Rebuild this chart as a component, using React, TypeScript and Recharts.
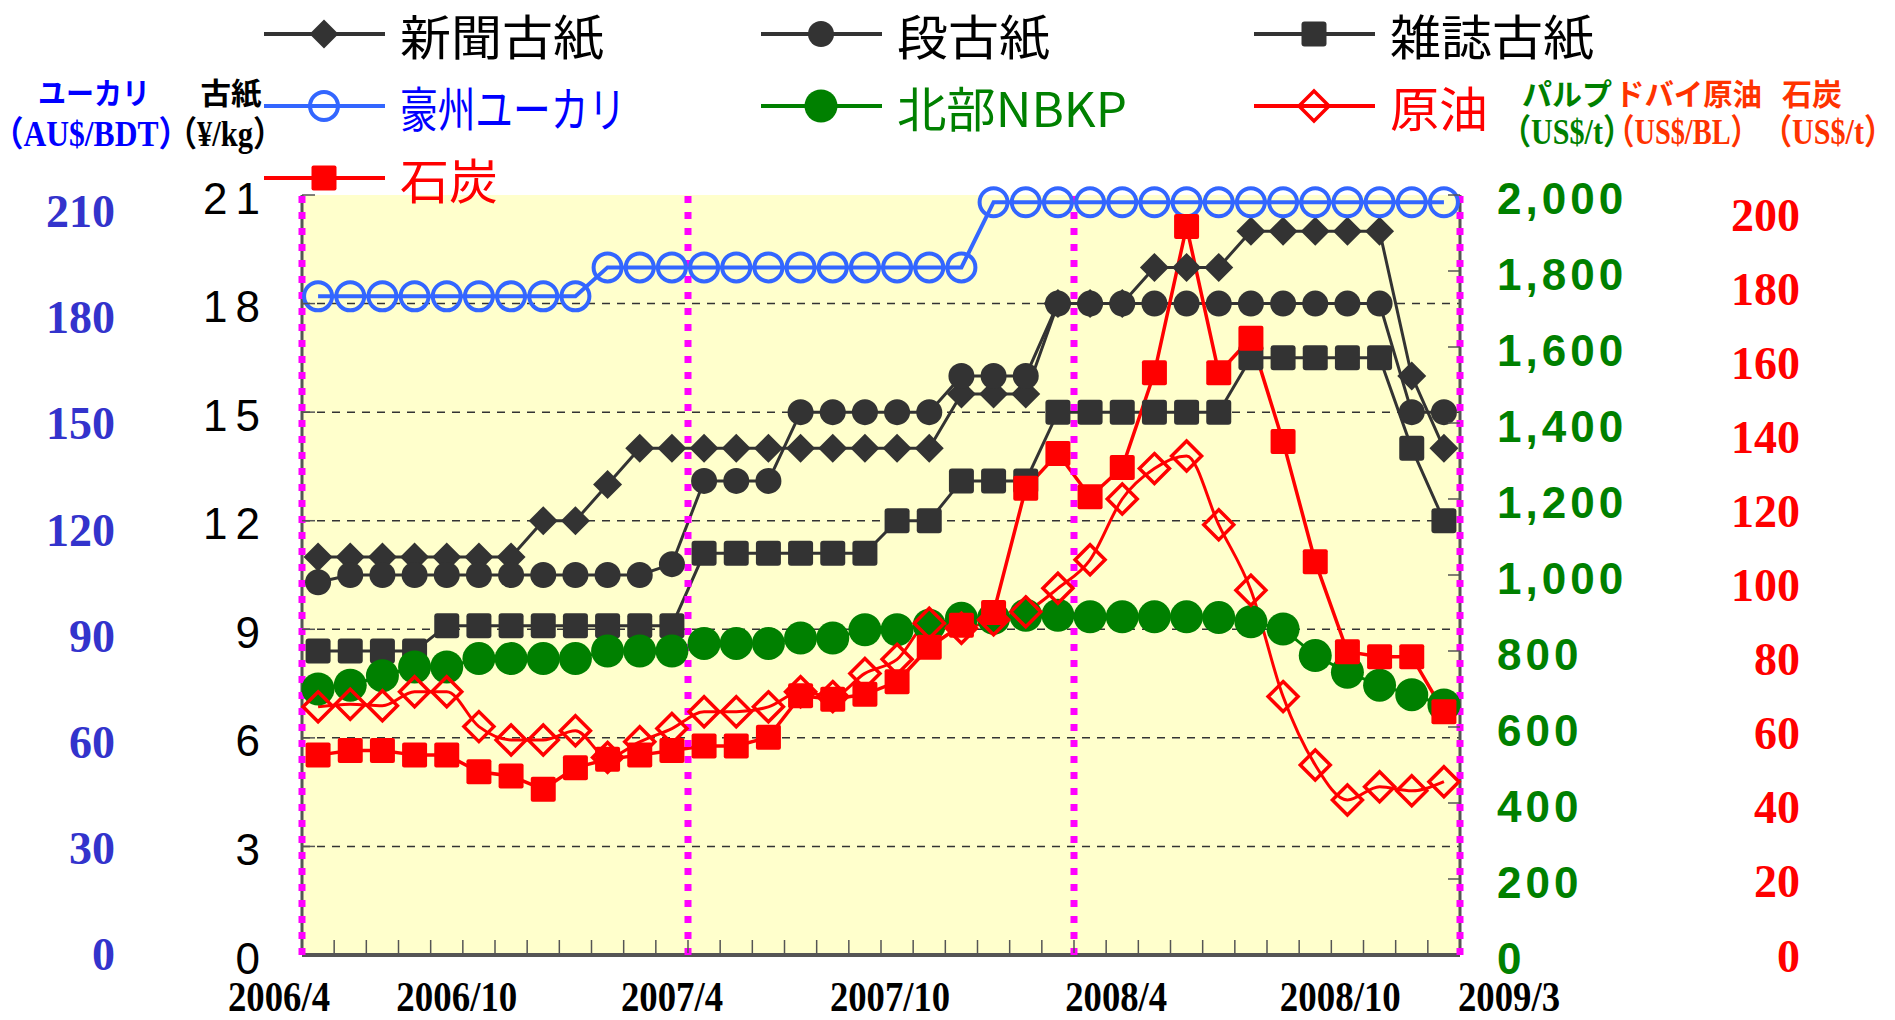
import React from 'react';
import { LineChart, Line, XAxis, YAxis, ReferenceLine, ReferenceArea, Legend } from 'recharts';

// ---------- data ----------
const months = [
  '2006/4', '2006/5', '2006/6', '2006/7', '2006/8', '2006/9', '2006/10', '2006/11', '2006/12', '2007/1', '2007/2', '2007/3',
  '2007/4', '2007/5', '2007/6', '2007/7', '2007/8', '2007/9', '2007/10', '2007/11', '2007/12', '2008/1', '2008/2', '2008/3',
  '2008/4', '2008/5', '2008/6', '2008/7', '2008/8', '2008/9', '2008/10', '2008/11', '2008/12', '2009/1', '2009/2', '2009/3',
];

// 古紙 (¥/kg)
const newsprint = [11, 11, 11, 11, 11, 11, 11, 12, 12, 13, 14, 14, 14, 14, 14, 14, 14, 14, 14, 14, 15.5, 15.5, 15.5, 18, 18, 18, 19, 19, 19, 20, 20, 20, 20, 20, 16, 14];
const corrugated = [10.3, 10.5, 10.5, 10.5, 10.5, 10.5, 10.5, 10.5, 10.5, 10.5, 10.5, 10.8, 13.1, 13.1, 13.1, 15, 15, 15, 15, 15, 16, 16, 16, 18, 18, 18, 18, 18, 18, 18, 18, 18, 18, 18, 15, 15];
const magazine = [8.4, 8.4, 8.4, 8.4, 9.1, 9.1, 9.1, 9.1, 9.1, 9.1, 9.1, 9.1, 11.1, 11.1, 11.1, 11.1, 11.1, 11.1, 12, 12, 13.1, 13.1, 13.1, 15, 15, 15, 15, 15, 15, 16.5, 16.5, 16.5, 16.5, 16.5, 14, 12];
// 豪州ユーカリ (AU$/BDT)
const eucalyptus = [182, 182, 182, 182, 182, 182, 182, 182, 182, 190, 190, 190, 190, 190, 190, 190, 190, 190, 190, 190, 190, 208, 208, 208, 208, 208, 208, 208, 208, 208, 208, 208, 208, 208, 208, 208];
// 北部NBKP (US$/t)
const nbkp = [700, 710, 735, 758, 758, 780, 780, 780, 780, 800, 800, 800, 820, 820, 820, 834, 834, 856, 856, 868, 886, 886, 894, 894, 890, 890, 890, 890, 888, 877, 858, 788, 744, 710, 685, 658];
// ドバイ原油 (US$/BL)
const crude = [65.3, 66, 65.6, 69.3, 69.3, 60.1, 56.6, 56.6, 59, 52, 56.1, 59.6, 64, 64, 65.3, 69.3, 68, 74.1, 77.8, 87.3, 86, 88.2, 90.3, 96.5, 104, 120, 128, 131.3, 113.2, 96, 68, 50, 40.8, 44.3, 43.2, 45.6];
// 石炭 (US$/t)
const coal = [52.6, 53.8, 53.8, 52.6, 52.6, 48.2, 47.1, 43.6, 49.3, 51.5, 52.6, 53.8, 55, 55, 57.3, 68.2, 67.3, 68.6, 71.9, 81, 86.8, 90.1, 122.8, 132, 120.6, 128.3, 153.2, 191.7, 153.2, 162.3, 135.1, 103.5, 79.8, 78.5, 78.5, 64];

const paperTicks = [0, 3, 6, 9, 12, 15, 18, 21];
const eucTicks = [0, 30, 60, 90, 120, 150, 180, 210];
const pulpTicks = [0, 200, 400, 600, 800, 1000, 1200, 1400, 1600, 1800, 2000];
const redTicks = [0, 20, 40, 60, 80, 100, 120, 140, 160, 180, 200];
const gridValues = [3, 6, 9, 12, 15, 18];
const fiscalYearBoundaries = [0, 12, 24, 36];
const monthBoundaries = Array.from({ length: 37 }, (_, i) => i);
const xTickLabels: Record<number, string> = { 0: '2006/4', 5: '2006/10', 12: '2007/4', 18: '2007/10', 25: '2008/4', 32: '2008/10', 36: '2009/3' };

const data = months.map((m, i) => ({
  month: m,
  x: i + 0.5,
  newsprint: newsprint[i],
  corrugated: corrugated[i],
  magazine: magazine[i],
  eucalyptus: eucalyptus[i],
  nbkp: nbkp[i],
  crude: crude[i],
  coal: coal[i],
}));

// axis ids (sorted order decides placement: A adjacent-left, B outer-left, C adjacent-right, D outer-right)
const PAPER = 'axisA_paper';
const EUC = 'axisB_euc';
const PULP = 'axisC_pulp';
const REDAX = 'axisD_red';

// ---------- styling ----------
const W = 1879;
const H = 1004;
const PLOT_TOP = 187;
const DARK = '#333333';
const BLUE = '#3366FF';
const GREEN = '#008000';
const RED = '#FF0000';
const ORANGE = '#FF3300';
const MAGENTA = '#FF00FF';
const BG = '#FFFFCC';
const SERIF = "'Liberation Serif', 'Times New Roman', 'Noto Sans CJK JP', serif";
const SANS = "'Liberation Sans', Arial, sans-serif";
const CJK = "'Noto Sans CJK JP', 'Noto Sans', sans-serif";

type Shape = 'diamond' | 'circle' | 'squareDark' | 'openCircle' | 'bigCircle' | 'openDiamond' | 'square';

interface SeriesCfg {
  key: string; name: string; axis: string; color: string; textColor: string; shape: Shape;
  width: number; curve: 'linear' | 'monotone'; col: number; row: number; textLen: number;
}

const series: SeriesCfg[] = [
  { key: 'newsprint', name: '新聞古紙', axis: PAPER, color: DARK, textColor: '#000', shape: 'diamond', width: 3, curve: 'linear', col: 0, row: 0, textLen: 204 },
  { key: 'corrugated', name: '段古紙', axis: PAPER, color: DARK, textColor: '#000', shape: 'circle', width: 3, curve: 'linear', col: 1, row: 0, textLen: 153 },
  { key: 'magazine', name: '雑誌古紙', axis: PAPER, color: DARK, textColor: '#000', shape: 'squareDark', width: 3, curve: 'linear', col: 2, row: 0, textLen: 204 },
  { key: 'eucalyptus', name: '豪州ユーカリ', axis: EUC, color: BLUE, textColor: '#0000FF', shape: 'openCircle', width: 4, curve: 'linear', col: 0, row: 1, textLen: 226 },
  { key: 'nbkp', name: '北部NBKP', axis: PULP, color: GREEN, textColor: GREEN, shape: 'bigCircle', width: 3, curve: 'linear', col: 1, row: 1, textLen: 230 },
  { key: 'crude', name: '原油', axis: REDAX, color: RED, textColor: RED, shape: 'openDiamond', width: 3, curve: 'monotone', col: 2, row: 1, textLen: 98 },
  { key: 'coal', name: '石炭', axis: REDAX, color: RED, textColor: RED, shape: 'square', width: 3.5, curve: 'linear', col: 0, row: 2, textLen: 98 },
];

function Marker({ shape, cx, cy, color }: { shape: Shape; cx: number; cy: number; color: string }) {
  if (cx == null || cy == null || Number.isNaN(cx) || Number.isNaN(cy)) return <g />;
  switch (shape) {
    case 'diamond': {
      const h = 14.5;
      return <polygon points={`${cx},${cy - h} ${cx + h},${cy} ${cx},${cy + h} ${cx - h},${cy}`} fill={color} />;
    }
    case 'circle':
      return <circle cx={cx} cy={cy} r={13} fill={color} />;
    case 'squareDark':
      return <rect x={cx - 12.5} y={cy - 12.5} width={25} height={25} rx={3} fill={color} />;
    case 'openCircle':
      return <circle cx={cx} cy={cy} r={14} fill="none" stroke={color} strokeWidth={4} />;
    case 'bigCircle':
      return <circle cx={cx} cy={cy} r={16.5} fill={color} />;
    case 'openDiamond': {
      const h = 15;
      return <polygon points={`${cx},${cy - h} ${cx + h},${cy} ${cx},${cy + h} ${cx - h},${cy}`} fill="none" stroke={color} strokeWidth={3.5} />;
    }
    case 'square':
    default:
      return <rect x={cx - 12.5} y={cy - 12.5} width={25} height={25} rx={2} fill={color} />;
  }
}

// legend layout
const legendLineStart = [256, 753, 1246];
const legendRowY = [26, 98, 170];

function LegendContent() {
  return (
    <svg width={W} height={PLOT_TOP} style={{ display: 'block', overflow: 'visible' }}>
      {series.map((s) => {
        const x0 = legendLineStart[s.col];
        const y = legendRowY[s.row];
        return (
          <g key={s.key}>
            <line x1={x0} x2={x0 + 121} y1={y} y2={y} stroke={s.color} strokeWidth={4} />
            <Marker shape={s.shape} cx={x0 + 60} cy={y} color={s.color} />
            <text x={x0 + 136} y={y} dominantBaseline="central" fontFamily={CJK} fontSize={48}
              fill={s.textColor} textLength={s.textLen} lengthAdjust="spacingAndGlyphs">{s.name}</text>
          </g>
        );
      })}
    </svg>
  );
}

// ---------- ticks ----------
const xLabelShift: Record<number, number> = { 0: -23, 5: -6, 12: -16, 18: 9, 25: 10, 32: 9, 36: 49 };
const xLabelLen: Record<number, number> = { 0: 102, 5: 121, 12: 102, 18: 120, 25: 102, 32: 121, 36: 102 };

function XTick(props: any) {
  const { x, y, payload } = props;
  const v = payload.value as number;
  const label = xTickLabels[v];
  return (
    <g>
      {v > 0 && v < 36 && <line x1={x} x2={x} y1={y - 2} y2={y - 15} stroke="#555" strokeWidth={1.5} />}
      {label && (
        <text x={x + xLabelShift[v]} y={y + 56} textAnchor="middle" fontFamily={SERIF} fontWeight="bold"
          fontSize={42} fill="#000" textLength={xLabelLen[v]} lengthAdjust="spacingAndGlyphs">{label}</text>
      )}
    </g>
  );
}

function PaperTick(props: any) {
  const { x, y, payload } = props;
  return (
    <g>
      {payload.value !== 0 && <line x1={x} x2={x + 13} y1={y} y2={y} stroke="#555" strokeWidth={1.5} />}
      <text x={x - 34} y={y + 3} textAnchor="end" dominantBaseline="central" fontFamily={SANS}
        fontSize={44} letterSpacing={8} fill="#000">{payload.value}</text>
    </g>
  );
}

function EucTick(props: any) {
  const { x, y, payload } = props;
  const ly = 203.5 + (y - PLOT_TOP) * 0.978;
  return (
    <text x={x - 43} y={ly} textAnchor="end" dominantBaseline="central" fontFamily={SERIF} fontWeight="bold"
      fontSize={46} fill="#3333CC">{payload.value}</text>
  );
}

function PulpTick(props: any) {
  const { x, y, payload } = props;
  return (
    <g>
      {payload.value !== 0 && <line x1={x - 12} x2={x} y1={y} y2={y} stroke="#555" strokeWidth={1.5} />}
      <text x={x + 37} y={y + 3} textAnchor="start" dominantBaseline="central" fontFamily={SANS} fontWeight="bold"
        fontSize={44} letterSpacing={4} fill={GREEN}>{Number(payload.value).toLocaleString('en-US')}</text>
    </g>
  );
}

function RedTick(props: any) {
  const { x, y, payload } = props;
  const ly = 207 + (y - PLOT_TOP) * 0.975;
  return (
    <text x={x + 90} y={ly} textAnchor="end" dominantBaseline="central" fontFamily={SERIF} fontWeight="bold"
      fontSize={46} fill={RED}>{payload.value}</text>
  );
}

// ---------- axis titles ----------
interface TitleLine { x: number; y: number; text: string; color: string; len: number; font: string; size: number }
function AxisTitle({ lines }: { lines: TitleLine[] }) {
  return (
    <g>
      {lines.map((l, i) => (
        <text key={i} x={l.x} y={l.y} textAnchor="middle" dominantBaseline="central" fontFamily={l.font}
          fontWeight="bold" fontSize={l.size} fill={l.color} textLength={l.len} lengthAdjust="spacingAndGlyphs">{l.text}</text>
      ))}
    </g>
  );
}

const eucTitle = (p: any) => {
  const vb = p.viewBox || { x: 0, y: PLOT_TOP };
  return <AxisTitle lines={[
    { x: vb.x + 86, y: vb.y - 104, text: 'ユーカリ', color: '#0000FF', len: 112, font: CJK, size: 30 },
    { x: vb.x + 83, y: vb.y - 61, text: '（AU$/BDT）', color: '#0000FF', len: 198, font: SERIF, size: 35 },
  ]} />;
};
const paperTitle = (p: any) => {
  const vb = p.viewBox || { x: 150, y: PLOT_TOP };
  return <AxisTitle lines={[
    { x: vb.x + 73, y: vb.y - 104, text: '古紙', color: '#000', len: 61, font: CJK, size: 30 },
    { x: vb.x + 67, y: vb.y - 61, text: '（¥/kg）', color: '#000', len: 117, font: SERIF, size: 35 },
  ]} />;
};
const pulpTitle = (p: any) => {
  const vb = p.viewBox || { x: 1452, y: PLOT_TOP };
  return <AxisTitle lines={[
    { x: vb.x + 107, y: vb.y - 103, text: 'パルプ', color: GREEN, len: 90, font: CJK, size: 30 },
    { x: vb.x + 107, y: vb.y - 63, text: '（US$/t）', color: GREEN, len: 132, font: SERIF, size: 35 },
  ]} />;
};
const redTitle = (p: any) => {
  const vb = p.viewBox || { x: 1702, y: PLOT_TOP };
  return <AxisTitle lines={[
    { x: vb.x - 21.5, y: vb.y - 103, text: 'ドバイ原油', color: ORANGE, len: 147, font: CJK, size: 30 },
    { x: vb.x + 102, y: vb.y - 103, text: '石炭', color: ORANGE, len: 60, font: CJK, size: 30 },
    { x: vb.x - 27.5, y: vb.y - 63, text: '（US$/BL）', color: ORANGE, len: 153, font: SERIF, size: 35 },
    { x: vb.x + 118, y: vb.y - 63, text: '（US$/t）', color: ORANGE, len: 132, font: SERIF, size: 35 },
  ]} />;
};

export default function App() {
  return (
    <LineChart width={W} height={H} data={data} margin={{ top: PLOT_TOP, right: 0, bottom: 0, left: 0 }}>
      <ReferenceArea yAxisId={PAPER} y1={0} y2={21} fill={BG} fillOpacity={1} stroke="none" {...({ zIndex: -200 } as any)} />
      {gridValues.map((v) => (
        <ReferenceLine key={`g${v}`} yAxisId={PAPER} y={v} stroke="#333" strokeWidth={1.5} strokeDasharray="8 7" {...({ zIndex: -150 } as any)} />
      ))}
      <XAxis dataKey="x" type="number" domain={[0, 36]} ticks={monthBoundaries} interval={0} height={57}
        tickSize={0} tickMargin={0} tickLine={false} axisLine={{ stroke: '#555', strokeWidth: 4 }}
        tick={(p: any) => <XTick {...p} />} />
      <YAxis yAxisId={PAPER} orientation="left" width={144} domain={[0, 21]} ticks={paperTicks} interval={0}
        tickSize={0} tickMargin={0} tickLine={false} axisLine={{ stroke: '#555', strokeWidth: 3 }}
        tick={(p: any) => <PaperTick {...p} />} label={{ content: paperTitle } as any} />
      <YAxis yAxisId={EUC} orientation="left" width={150} domain={[0, 210]} ticks={eucTicks} interval={0}
        tickSize={0} tickMargin={0} tickLine={false} axisLine={false}
        tick={(p: any) => <EucTick {...p} />} label={{ content: eucTitle } as any} />
      <YAxis yAxisId={PULP} orientation="right" width={250} domain={[0, 2000]} ticks={pulpTicks} interval={0}
        tickSize={0} tickMargin={0} tickLine={false} axisLine={{ stroke: '#555', strokeWidth: 3 }}
        tick={(p: any) => <PulpTick {...p} />} label={{ content: pulpTitle } as any} />
      <YAxis yAxisId={REDAX} orientation="right" width={177} domain={[0, 200]} ticks={redTicks} interval={0}
        tickSize={0} tickMargin={0} tickLine={false} axisLine={false}
        tick={(p: any) => <RedTick {...p} />} label={{ content: redTitle } as any} />
      {series.map((s) => (
        <Line key={s.key} yAxisId={s.axis} dataKey={s.key} name={s.name} type={s.curve} stroke={s.color}
          strokeWidth={s.width} isAnimationActive={false} activeDot={false}
          dot={(p: any) => <Marker key={`${s.key}-${p.index}`} shape={s.shape} cx={p.cx} cy={p.cy} color={s.color} />} />
      ))}
      {fiscalYearBoundaries.map((b) => (
        <ReferenceLine key={`fy${b}`} yAxisId={PAPER} x={b} stroke={MAGENTA} strokeWidth={7} strokeDasharray="7 9" {...({ zIndex: 600 } as any)} />
      ))}
      <Legend verticalAlign="middle" align="center" layout="horizontal"
        wrapperStyle={{ position: 'absolute', top: 0, left: 0, width: W, height: PLOT_TOP }}
        content={() => <LegendContent />} />
    </LineChart>
  );
}
